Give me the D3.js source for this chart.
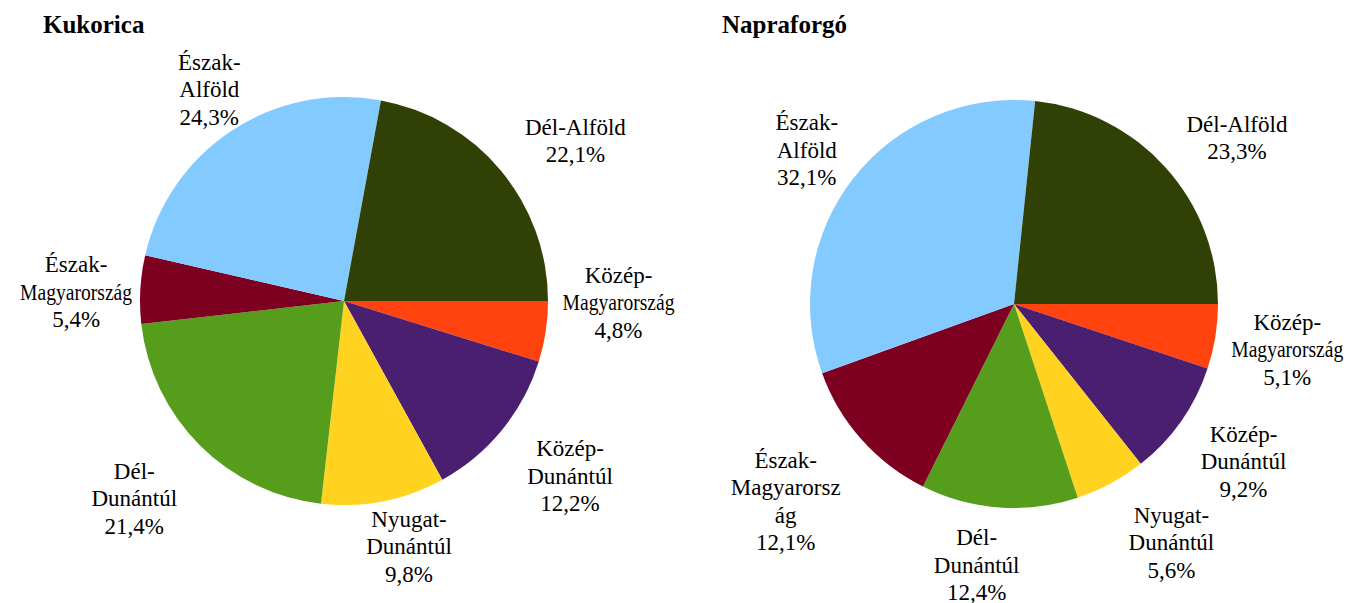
<!DOCTYPE html>
<html>
<head>
<meta charset="utf-8">
<script src="https://cdn.jsdelivr.net/npm/d3@7"></script>
<style>
    body { margin: 0; background: #fff; }
</style>
</head>
<body>
<svg></svg>
<script>
let regions = ['Közép-Magyarország', 'Közép-Dunántúl', 'Nyugat-Dunántúl', 'Dél-Dunántúl',
    'Észak-Magyarország', 'Észak-Alföld', 'Dél-Alföld'];
let kukoricaValues = [4.8, 12.2, 9.8, 21.4, 5.4, 24.3, 22.1];
let napraforgoValues = [5.1, 9.2, 5.6, 12.4, 12.1, 32.1, 23.3];
let regionColors = ['#ff420e', '#4b1f6f', '#ffd320', '#579d1c', '#7e0021', '#83caff', '#314004'];

let width = 1348;
let height = 603;
let radius = 204;
let gap = 8;
let lineHeight = 27.5;
let maxLine = 112;

// label nudges (px) on top of the computed outside placement
let charts = [
    { title: 'Kukorica', values: kukoricaValues, cx: 344, cy: 301, titleX: 43,
      nudge: { 'Közép-Magyarország': [9, -30], 'Észak-Alföld': [13, 6], 'Nyugat-Dunántúl': [24, -2],
               'Dél-Alföld': [18, 2], 'Közép-Dunántúl': [19, 1], 'Dél-Dunántúl': [-17, 8],
               'Észak-Magyarország': [0, 3] },
      wrap: {} },
    { title: 'Napraforgó', values: napraforgoValues, cx: 1014, cy: 304, titleX: 722,
      nudge: { 'Közép-Magyarország': [8, 12], 'Dél-Dunántúl': [-22, 10], 'Észak-Alföld': [-9, 17],
               'Észak-Magyarország': [-15, 3], 'Nyugat-Dunántúl': [14, 12], 'Közép-Dunántúl': [13, -4],
               'Dél-Alföld': [15, 2] },
      wrap: { 'Észak-Magyarország': ['Észak-', 'Magyarorsz', 'ág'] } }
];

let svg = d3.select('svg')
    .attr('width', width)
    .attr('height', height)
    .attr('font-family', '"Liberation Serif", "Times New Roman", serif');

let pie = d3.pie()
    .sort(null)
    .value(d => d.value)
    .startAngle(Math.PI / 2)
    .endAngle(Math.PI / 2 + 2 * Math.PI);

let arc = d3.arc().innerRadius(0).outerRadius(radius);
let fmt = v => d3.format('.1f')(v).replace('.', ',') + '%';

// measure helper for wrapping
let probe = svg.append('text').attr('font-size', 23).attr('visibility', 'hidden');
let textWidth = s => { probe.text(s); return probe.node().getComputedTextLength(); };

function labelLines(name, value, chart) {
    let lines = chart.wrap[name] ? chart.wrap[name].slice()
        : (textWidth(name) > 110 ? name.replace('-', '-\n').split('\n') : [name]);
    lines.push(fmt(value));
    return lines;
}

// LibreOffice style label alignment around the anchor point
function alignment(a) {
    let deg = ((90 - a * 180 / Math.PI) % 360 + 360) % 360;
    if (deg <= 22.5) return [1, 0];
    if (deg < 67.5) return [1, -1];
    if (deg < 112.5) return [0, -1];
    if (deg <= 157.5) return [-1, -1];
    if (deg <= 202.5) return [-1, 0];
    if (deg < 247.5) return [-1, 1];
    if (deg < 292.5) return [0, 1];
    if (deg < 337.5) return [1, 1];
    return [1, 0];
}

charts.forEach(chart => {
    let data = regions.map((r, i) => ({ region: r, value: chart.values[i], color: regionColors[i] }));

    svg.append('text')
        .attr('x', chart.titleX)
        .attr('y', 33)
        .attr('font-size', 25)
        .attr('font-weight', 'bold')
        .text(chart.title);

    let g = svg.append('g')
        .attr('transform', `translate(${chart.cx}, ${chart.cy})`);

    let arcs = pie(data);

    g.selectAll('path')
        .data(arcs)
        .enter()
        .append('path')
        .attr('d', arc)
        .attr('fill', d => d.data.color);

    let labels = g.selectAll('.label')
        .data(arcs)
        .enter()
        .append('g')
        .attr('class', 'label');

    labels.each(function (d) {
        let s = d3.select(this);
        let lines = labelLines(d.data.region, d.data.value, chart);
        lines.forEach((l, i) => {
            let t = s.append('text')
                .attr('font-size', 23)
                .attr('text-anchor', 'middle')
                .attr('fill', '#000')
                .text(l);
            let w = t.node().getComputedTextLength();
            // long words are squeezed horizontally, as in the original
            let sx = w > maxLine ? maxLine / w : 1;
            t.attr('transform', `translate(0, ${i * lineHeight}) scale(${sx}, 1)`);
        });

        let bb = s.node().getBBox();
        let a = (d.startAngle + d.endAngle) / 2;
        let px = Math.sin(a) * (radius + gap);
        let py = -Math.cos(a) * (radius + gap);
        let [hx, vy] = alignment(a);
        let n = chart.nudge[d.data.region] || [0, 0];
        let bx = px + hx * bb.width / 2 + n[0];
        let by = py + vy * bb.height / 2 + n[1];
        s.attr('transform', `translate(${bx - (bb.x + bb.width / 2)}, ${by - (bb.y + bb.height / 2)})`);
    });
});

probe.remove();
</script>
</body>
</html>
